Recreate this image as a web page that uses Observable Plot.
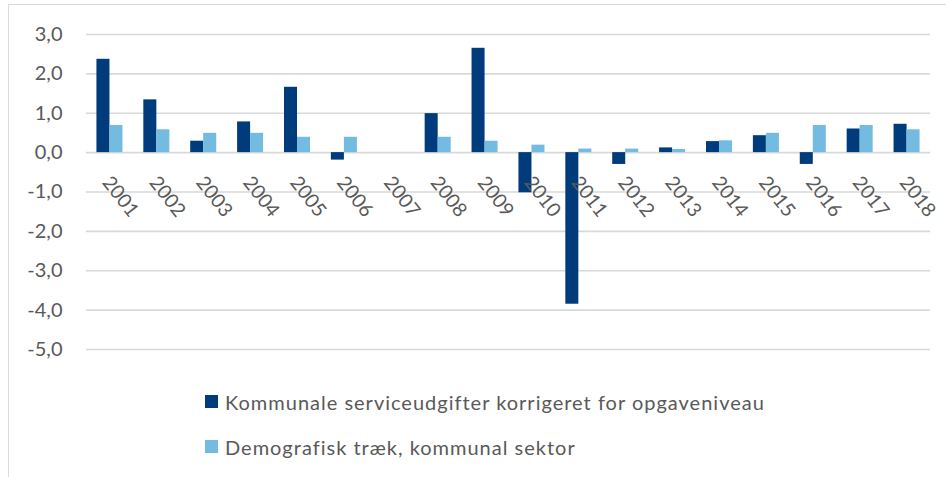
<!DOCTYPE html>
<html>
<head>
<meta charset="utf-8">
<script src="https://cdn.jsdelivr.net/npm/d3@7"></script>
<script src="https://cdn.jsdelivr.net/npm/@observablehq/plot@0.6"></script>
<style>
  html, body { margin: 0; padding: 0; background: #fff; }
  body { width: 946px; height: 477px; position: relative; overflow: hidden; font-family: Lato, "Open Sans", sans-serif; }
  #frame { position: absolute; left: 8px; top: 4px; width: 960px; height: 500px; border-top: 1.5px solid #d9d9d9; border-left: 1.5px solid #d9d9d9; box-sizing: border-box; }
  #chart { position: absolute; left: 0; top: 0; }
  #legend { position: absolute; left: 205px; top: 389px; color: #595959; font-size: 20px; letter-spacing: 1px; }
  .item { display: flex; align-items: center; height: 25px; margin-bottom: 20px; white-space: nowrap; }
  .sw { width: 13px; height: 13px; margin-right: 7px; flex: none; }
</style>
</head>
<body>
<div id="frame"></div>
<div id="chart"></div>
<div id="legend"></div>
<script>
const years = ["2001","2002","2003","2004","2005","2006","2007","2008","2009","2010","2011","2012","2013","2014","2015","2016","2017","2018"];
const serviceudgifter = [2.37, 1.34, 0.29, 0.78, 1.66, -0.19, 0, 0.99, 2.65, -1.02, -3.85, -0.3, 0.12, 0.28, 0.43, -0.3, 0.6, 0.72];
const demografi = [0.69, 0.58, 0.49, 0.49, 0.39, 0.39, 0, 0.39, 0.29, 0.19, 0.09, 0.09, 0.08, 0.3, 0.49, 0.69, 0.69, 0.58];
const seriesNames = ["Kommunale serviceudgifter korrigeret for opgaveniveau", "Demografisk træk, kommunal sektor"];
const seriesColors = ["#003b7b", "#74bbe2"];
const yTicks = [3, 2, 1, 0, -1, -2, -3, -4, -5];

const rowsA = years.map((y, i) => ({year: y, value: serviceudgifter[i]}));
const rowsB = years.map((y, i) => ({year: y, value: demografi[i]}));
const fmt = d => d.toFixed(1).replace(".", ",");
const font = "Lato, 'Open Sans', sans-serif";

const chart = Plot.plot({
  width: 946,
  height: 370,
  marginLeft: 86,
  marginRight: 16,
  marginTop: 34,
  marginBottom: 21,
  style: {fontFamily: font, background: "transparent"},
  x: {type: "band", domain: years, paddingInner: 0.445, paddingOuter: 0.2225, round: false, axis: null},
  y: {domain: [-5, 3], axis: null},
  marks: [
    Plot.ruleY(yTicks, {stroke: "#d9d9d9", strokeWidth: 1.6}),
    Plot.barY(rowsA, {x: "year", y: "value", fill: seriesColors[0], insetRight: 13}),
    Plot.barY(rowsB, {x: "year", y: "value", fill: seriesColors[1], insetLeft: 13}),
    Plot.axisY(yTicks, {label: null, tickSize: 0, tickPadding: 24, tickFormat: fmt, fontSize: 20, fill: "#595959", fontFamily: font, style: {letterSpacing: "0.5px"}}),
    Plot.text(years, {x: d => d, y: () => 0, text: d => d, rotate: 52, textAnchor: "middle", lineAnchor: "middle", dx: 10.5, dy: 44, fontSize: 19.5, fill: "#595959", fontFamily: font})
  ]
});
document.getElementById("chart").append(chart);

const legend = document.getElementById("legend");
seriesNames.forEach((name, i) => {
  const item = document.createElement("div");
  item.className = "item";
  const sw = document.createElement("span");
  sw.className = "sw";
  sw.style.background = seriesColors[i];
  const label = document.createElement("span");
  label.textContent = name;
  item.append(sw, label);
  legend.append(item);
});
</script>
</body>
</html>
